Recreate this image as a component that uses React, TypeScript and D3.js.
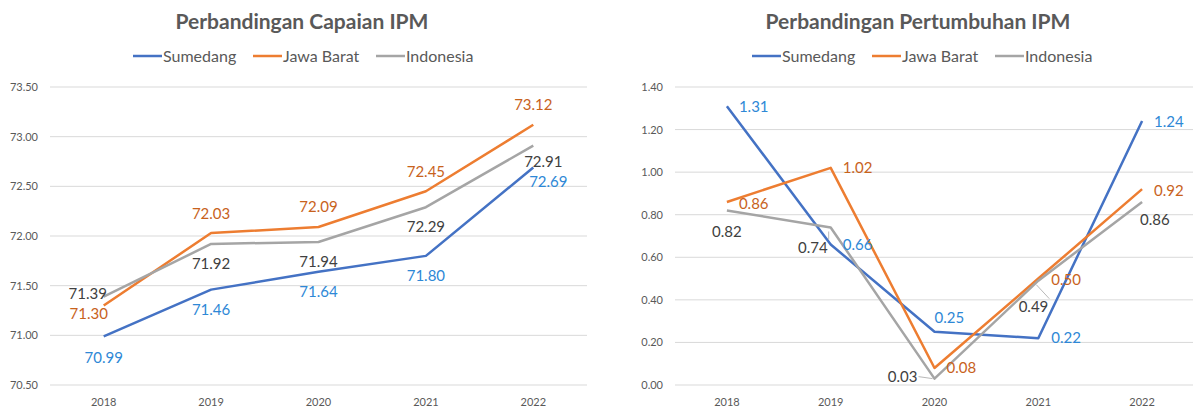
import React from 'react';
import * as d3 from 'd3';

const W = 1193;
const H = 407;

const years = ['2018', '2019', '2020', '2021', '2022'];
const seriesNames = ['Sumedang', 'Jawa Barat', 'Indonesia'];

// Capaian IPM
const capaianSumedang = [70.99, 71.46, 71.64, 71.8, 72.69];
const capaianJabar = [71.3, 72.03, 72.09, 72.45, 73.12];
const capaianIndonesia = [71.39, 71.92, 71.94, 72.29, 72.91];
const capaianTicks = [70.5, 71.0, 71.5, 72.0, 72.5, 73.0, 73.5];

// Pertumbuhan IPM
const tumbuhSumedang = [1.31, 0.66, 0.25, 0.22, 1.24];
const tumbuhJabar = [0.86, 1.02, 0.08, 0.5, 0.92];
const tumbuhIndonesia = [0.82, 0.74, 0.03, 0.49, 0.86];
const tumbuhTicks = [0, 0.2, 0.4, 0.6, 0.8, 1.0, 1.2, 1.4];

const lineColors = ['#4472C4', '#ED7D31', '#A5A5A5'];
const labelColors = ['#2E88D6', '#C8621C', '#404040'];
const FONT = 'Lato, "Open Sans", sans-serif';

// label placement: [dx, dy, anchor, leader]
type Place = [number, number, string, boolean?];
const capaianPlace: Place[][] = [
  [[0, 21, 'middle'], [0, 20, 'middle'], [0, 20, 'middle'], [0, 20, 'middle'], [15, 14, 'middle']],
  [[-15, 8, 'middle'], [0, -19, 'middle'], [0, -20, 'middle'], [0, -20, 'middle'], [0, -20, 'middle']],
  [[-16, -3, 'middle'], [0, 20, 'middle'], [0, 20, 'middle'], [0, 20, 'middle'], [10, 16, 'middle']],
];
const tumbuhPlace: Place[][] = [
  [[12, 1, 'start'], [12, 0, 'start'], [0, -14, 'start'], [13, 0, 'start'], [12, 1, 'start']],
  [[12, 2, 'start'], [12, 0, 'start'], [12, 0, 'start'], [13, 1, 'start'], [12, 2, 'start']],
  [[0, 21, 'middle'], [-3, 20, 'end', true], [-17, -2, 'end', true], [10, 26, 'end', true], [-2, 18, 'start']],
];

type ChartProps = {
  title: string;
  cx: number;
  left: number;
  right: number;
  ticks: number[];
  series: number[][];
  place: Place[][];
  legendX: number;
};

const LineChart = ({ title, cx, left, right, ticks, series, place, legendX }: ChartProps) => {
  const top = 87;
  const bottom = 385;
  const x = d3.scalePoint<string>().domain(years).range([left, right]).padding(0.5);
  const y = d3
    .scaleLinear()
    .domain([ticks[0], ticks[ticks.length - 1]])
    .range([bottom, top]);
  const line = d3
    .line<number>()
    .x((_, i) => x(years[i]) as number)
    .y((v) => y(v));
  const fmt = d3.format('.2f');
  const legendOffsets = [0, 120, 243];

  return (
    <g fontFamily={FONT}>
      <text x={cx} y={29} textAnchor="middle" fontSize={21} fontWeight={700} fill="#595959">
        {title}
      </text>
      {seriesNames.map((n, i) => (
        <g key={n} transform={`translate(${legendX + legendOffsets[i]},56)`}>
          <line x1={0} x2={29} y1={0} y2={0} stroke={lineColors[i]} strokeWidth={2.5} />
          <text x={30} y={5.5} fontSize={16} fill="#595959">
            {n}
          </text>
        </g>
      ))}
      {ticks.map((t) => (
        <g key={t}>
          <line x1={left} x2={right} y1={y(t)} y2={y(t)} stroke="#D9D9D9" strokeWidth={1} />
          <text x={left - 12} y={y(t) + 4} textAnchor="end" fontSize={11} fill="#595959">
            {fmt(t)}
          </text>
        </g>
      ))}
      {years.map((yr) => (
        <text key={yr} x={x(yr)} y={406} textAnchor="middle" fontSize={11} fill="#595959">
          {yr}
        </text>
      ))}
      {series.map((s, i) => (
        <path key={i} d={line(s) || ''} fill="none" stroke={lineColors[i]} strokeWidth={2.5} strokeLinejoin="round" />
      ))}
      {series.map((s, i) =>
        s.map((v, j) => {
          const [dx, dy, anchor, leader] = place[i][j];
          const px = x(years[j]) as number;
          const py = y(v);
          return (
            <g key={`${i}-${j}`}>
              {leader && (
                <line
                  x1={px - 2}
                  y1={py + (dy > 10 ? 4 : 0)}
                  x2={px + dx + (anchor === 'end' ? 1 : 0)}
                  y2={py + dy - (dy > 10 ? 8 : 0)}
                  stroke="#A6A6A6"
                  strokeWidth={0.8}
                />
              )}
              <text
                x={px + dx}
                y={py + dy}
                dy="0.35em"
                textAnchor={anchor}
                fontSize={15}
                fill={labelColors[i]}
              >
                {fmt(v)}
              </text>
            </g>
          );
        })
      )}
    </g>
  );
};

export default function App() {
  return (
    <svg width={W} height={H} style={{ position: 'absolute', left: 0, top: 0, background: '#fff' }}>
      <LineChart
        title="Perbandingan Capaian IPM"
        cx={302}
        left={50}
        right={587}
        ticks={capaianTicks}
        series={[capaianSumedang, capaianJabar, capaianIndonesia]}
        place={capaianPlace}
        legendX={133}
      />
      <LineChart
        title="Perbandingan Pertumbuhan IPM"
        cx={918}
        left={675}
        right={1194}
        ticks={tumbuhTicks}
        series={[tumbuhSumedang, tumbuhJabar, tumbuhIndonesia]}
        place={tumbuhPlace}
        legendX={752}
      />
    </svg>
  );
}
